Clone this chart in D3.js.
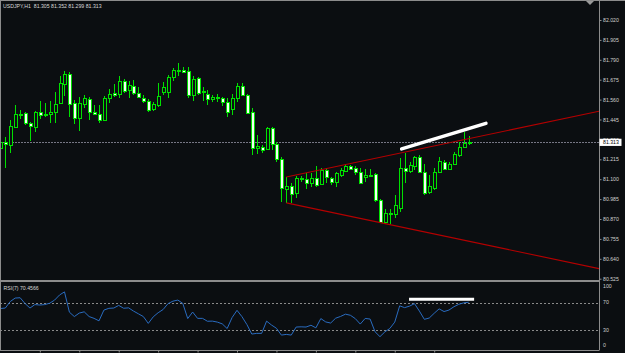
<!DOCTYPE html>
<html>
<head>
<meta charset="utf-8">
<script src="https://cdn.jsdelivr.net/npm/d3@7"></script>
<style>
  html, body { margin: 0; padding: 0; background: #0b0e11; }
  svg { display: block; font-family: "Liberation Sans", Arial, sans-serif; }
</style>
</head>
<body>
<div id="chart"></div>
<script>
// chart texts
const symbolTitle = 'USDJPY,H1  81.305 81.352 81.299 81.313';
const rsiTitle = 'RSI(7) 70.4566';

// hourly candles, oldest first
const opens = [81.281, 81.315, 81.298, 81.402, 81.471, 81.483, 81.425, 81.402, 81.488, 81.477,
  81.477, 81.488, 81.541, 81.650, 81.708, 81.541, 81.454, 81.535, 81.564, 81.488,
  81.477, 81.442, 81.569, 81.599, 81.593, 81.667, 81.616, 81.639, 81.599, 81.569,
  81.552, 81.506, 81.529, 81.604, 81.604, 81.691, 81.731, 81.731, 81.725, 81.587,
  81.685, 81.604, 81.593, 81.564, 81.575, 81.569, 81.546, 81.506, 81.569, 81.639,
  81.587, 81.488, 81.281, 81.287, 81.275, 81.396, 81.304, 81.217, 81.044, 81.061,
  81.021, 81.101, 81.101, 81.078, 81.107, 81.072, 81.153, 81.107, 81.084, 81.124,
  81.147, 81.176, 81.165, 81.141, 81.113, 81.124, 81.130, 80.980, 80.853, 80.905,
  80.899, 80.934, 81.165, 81.147, 81.176, 81.229, 81.141, 81.026, 81.049, 81.141,
  81.199, 81.159, 81.188, 81.240, 81.287, 81.305];
const highs = [81.349, 81.344, 81.442, 81.529, 81.500, 81.488, 81.430, 81.494, 81.552, 81.541,
  81.552, 81.604, 81.696, 81.725, 81.719, 81.558, 81.575, 81.587, 81.575, 81.529,
  81.529, 81.581, 81.622, 81.650, 81.696, 81.679, 81.667, 81.673, 81.633, 81.587,
  81.564, 81.546, 81.656, 81.662, 81.702, 81.742, 81.771, 81.748, 81.748, 81.696,
  81.691, 81.633, 81.616, 81.587, 81.593, 81.575, 81.569, 81.593, 81.656, 81.656,
  81.593, 81.512, 81.355, 81.298, 81.402, 81.402, 81.315, 81.229, 81.113, 81.078,
  81.118, 81.118, 81.136, 81.136, 81.176, 81.165, 81.165, 81.113, 81.141, 81.165,
  81.188, 81.182, 81.176, 81.165, 81.159, 81.159, 81.136, 80.986, 80.928, 80.928,
  81.009, 81.223, 81.252, 81.199, 81.234, 81.240, 81.188, 81.124, 81.165, 81.229,
  81.211, 81.199, 81.257, 81.315, 81.373, 81.352];
const lows = [81.257, 81.165, 81.252, 81.396, 81.448, 81.413, 81.321, 81.373, 81.448, 81.460,
  81.425, 81.425, 81.535, 81.581, 81.460, 81.419, 81.378, 81.512, 81.442, 81.471,
  81.425, 81.436, 81.541, 81.575, 81.569, 81.599, 81.569, 81.587, 81.569, 81.541,
  81.488, 81.494, 81.517, 81.587, 81.569, 81.667, 81.696, 81.714, 81.569, 81.552,
  81.587, 81.552, 81.529, 81.546, 81.546, 81.523, 81.460, 81.471, 81.546, 81.581,
  81.477, 81.240, 81.246, 81.252, 81.269, 81.269, 81.199, 80.968, 80.963, 80.963,
  80.992, 81.084, 81.044, 81.055, 81.055, 81.067, 81.078, 81.067, 81.055, 81.113,
  81.141, 81.153, 81.124, 81.072, 81.084, 81.113, 80.968, 80.847, 80.841, 80.841,
  80.876, 80.911, 81.078, 81.136, 81.153, 81.136, 81.009, 81.015, 81.038, 81.136,
  81.153, 81.153, 81.182, 81.229, 81.281, 81.299];
const closes = [81.315, 81.304, 81.407, 81.477, 81.477, 81.425, 81.407, 81.488, 81.471, 81.474,
  81.488, 81.535, 81.656, 81.708, 81.535, 81.454, 81.541, 81.569, 81.488, 81.477,
  81.442, 81.569, 81.593, 81.587, 81.667, 81.610, 81.644, 81.599, 81.575, 81.552,
  81.500, 81.535, 81.581, 81.633, 81.691, 81.731, 81.728, 81.719, 81.587, 81.679,
  81.599, 81.610, 81.564, 81.575, 81.569, 81.546, 81.488, 81.569, 81.639, 81.587,
  81.483, 81.281, 81.292, 81.269, 81.396, 81.304, 81.217, 81.049, 81.061, 81.015,
  81.107, 81.107, 81.078, 81.107, 81.067, 81.153, 81.113, 81.084, 81.136, 81.153,
  81.176, 81.159, 81.141, 81.078, 81.124, 81.121, 80.980, 80.853, 80.905, 80.902,
  80.951, 81.165, 81.147, 81.182, 81.229, 81.141, 81.021, 81.061, 81.141, 81.205,
  81.159, 81.188, 81.246, 81.287, 81.310, 81.313];

// RSI(7), one value per candle
const rsiValues = [61.3, 62.0, 71.5, 76.5, 77.0, 68.5, 62.0, 67.0, 66.4, 67.0,
  69.0, 73.6, 81.0, 85.5, 56.0, 49.6, 54.7, 56.5, 49.6, 47.0,
  43.4, 59.0, 61.6, 62.0, 65.8, 61.7, 62.3, 57.6, 53.6, 49.6,
  39.7, 49.2, 55.2, 59.8, 68.4, 72.0, 73.6, 68.7, 46.7, 56.2,
  47.0, 47.0, 42.8, 43.0, 41.6, 39.0, 32.2, 48.2, 58.7, 49.5,
  38.1, 24.2, 25.2, 25.2, 43.0, 37.3, 32.6, 22.7, 23.7, 22.7,
  34.4, 34.7, 34.4, 37.0, 33.2, 46.7, 41.8, 40.2, 47.2, 49.8,
  53.1, 51.5, 46.6, 38.7, 46.9, 46.0, 27.5, 20.4, 27.4, 32.3,
  41.6, 65.2, 62.6, 64.8, 68.4, 57.6, 45.6, 47.5, 54.4, 60.8,
  56.9, 59.1, 63.9, 67.5, 69.6, 70.4566];

// axis labels
const priceTicks = [82.020, 81.905, 81.790, 81.675, 81.560, 81.445, 81.330,
  81.215, 81.100, 80.985, 80.870, 80.755, 80.640, 80.525];
const rsiTicks = [100, 70, 30, 0];
const rsiLevels = [70, 30];
const timeTicks = [8, 16, 24, 32, 40, 48, 56, 64, 72, 80, 88];
const lastPrice = 81.313;

// drawn objects: [candle index, value]
const trendUpper = [[58, 81.113], [121, 81.490]];
const trendLower = [[58, 80.963], [121, 80.586]];
const whiteLine = [[81.4, 81.275], [98.5, 81.423]];
const rsiWhiteLine = [[82.9, 74.8], [96.1, 74.8]];

const W = 625, H = 353;
const plotRight = 599;
const mainTop = 2, mainBottom = 280.5;
const rsiTop = 282.5, rsiBottom = 350.5;
const green = '#00e000';
const grid = '#8c8c8c';

const svg = d3.select('#chart').append('svg')
  .attr('width', W)
  .attr('height', H);
svg.append('rect').attr('width', W).attr('height', H).attr('fill', '#0b0e11');

const x = d3.scaleLinear().domain([0, 95]).range([0.4, 468.7]);
const y = d3.scaleLinear().domain([80.525, 82.02]).range([278.7, 20]);
const yRsi = d3.scaleLinear().domain([0, 100]).range([350.7, 281.9]);

const defs = svg.append('defs');
defs.append('clipPath').attr('id', 'clip-main')
  .append('rect').attr('x', 1).attr('y', mainTop).attr('width', plotRight - 1).attr('height', mainBottom - mainTop);
defs.append('clipPath').attr('id', 'clip-rsi')
  .append('rect').attr('x', 1).attr('y', rsiTop).attr('width', plotRight - 1).attr('height', rsiBottom - rsiTop);

const main = svg.append('g').attr('clip-path', 'url(#clip-main)');
const rsiG = svg.append('g').attr('clip-path', 'url(#clip-rsi)');

// current price line
main.append('line')
  .attr('x1', 0).attr('x2', plotRight)
  .attr('y1', Math.round(y(lastPrice)) + 0.5).attr('y2', Math.round(y(lastPrice)) + 0.5)
  .attr('stroke', '#767684')
  .attr('stroke-dasharray', '2 1');

// candles
const candles = d3.range(opens.length).map(i => ({
  i, o: opens[i], h: highs[i], l: lows[i], c: closes[i]
}));
const cg = main.append('g').attr('shape-rendering', 'crispEdges');
const candleG = cg.selectAll('g.candle').data(candles).enter().append('g').attr('class', 'candle');
candleG.append('line')
  .attr('x1', d => Math.round(x(d.i)) + 0.5)
  .attr('x2', d => Math.round(x(d.i)) + 0.5)
  .attr('y1', d => y(d.h))
  .attr('y2', d => y(d.l))
  .attr('stroke', green);
candleG.append('rect')
  .attr('x', d => Math.round(x(d.i)) - 1)
  .attr('width', 3)
  .attr('y', d => Math.round(y(Math.max(d.o, d.c))) + 0.5)
  .attr('height', d => Math.max(1, Math.round(Math.abs(y(d.o) - y(d.c)))))
  .attr('fill', d => d.c >= d.o ? '#0b0e11' : '#f2fff2')
  .attr('stroke', green);

// trend lines, extended to the right edge
const xEnd = x.invert(plotRight);
function extend(pts) {
  const [[i0, p0], [i1, p1]] = pts;
  const k = (p1 - p0) / (i1 - i0);
  return [[i0, p0], [xEnd, p0 + k * (xEnd - i0)]];
}
const lineGen = d3.line().x(d => x(d[0])).y(d => y(d[1]));
[trendUpper, trendLower].forEach(t => {
  main.append('path')
    .attr('d', lineGen(extend(t)))
    .attr('fill', 'none')
    .attr('stroke', '#b40000')
    .attr('stroke-width', 1.1);
});

main.append('path')
  .attr('d', lineGen(whiteLine))
  .attr('fill', 'none')
  .attr('stroke', '#ffffff')
  .attr('stroke-width', 3.5)
  .attr('stroke-linecap', 'round');

// RSI panel
rsiLevels.forEach(v => {
  rsiG.append('line')
    .attr('x1', 0).attr('x2', plotRight)
    .attr('y1', Math.round(yRsi(v)) + 0.5).attr('y2', Math.round(yRsi(v)) + 0.5)
    .attr('stroke', '#8a8a8a')
    .attr('stroke-dasharray', '2 2');
});
rsiG.append('path')
  .datum(rsiValues)
  .attr('d', d3.line().x((d, i) => x(i)).y(d => yRsi(d)))
  .attr('fill', 'none')
  .attr('stroke', '#2a6cc0')
  .attr('stroke-width', 1);
rsiG.append('path')
  .attr('d', d3.line().x(d => x(d[0])).y(d => yRsi(d[1]))(rsiWhiteLine))
  .attr('fill', 'none')
  .attr('stroke', '#ffffff')
  .attr('stroke-width', 3);

// frames
const frame = svg.append('g').attr('stroke', grid).attr('shape-rendering', 'crispEdges');
frame.append('line').attr('x1', 0).attr('x2', W).attr('y1', 0.5).attr('y2', 0.5);
frame.append('line').attr('x1', 0.5).attr('x2', 0.5).attr('y1', 0).attr('y2', rsiBottom);
frame.append('line').attr('x1', 0).attr('x2', plotRight).attr('y1', mainBottom).attr('y2', mainBottom);
frame.append('line').attr('x1', 0).attr('x2', plotRight).attr('y1', rsiTop - 1).attr('y2', rsiTop - 1);
frame.append('line').attr('x1', 0).attr('x2', plotRight).attr('y1', rsiBottom).attr('y2', rsiBottom);

svg.append('path')
  .attr('d', 'M586,1 L594,1 L590,5 Z')
  .attr('fill', '#9a9a9a');

// price axis
const yAxis = d3.axisRight(y)
  .tickValues(priceTicks)
  .tickSize(2)
  .tickPadding(1.5)
  .tickFormat(d3.format('.3f'));
const gy = svg.append('g')
  .attr('transform', `translate(${plotRight + 0.5},0)`)
  .call(yAxis);
gy.select('.domain').attr('stroke', grid).attr('d', `M0,0V${rsiBottom}`);
gy.selectAll('line').attr('stroke', grid);
gy.selectAll('text')
  .attr('fill', '#d0d0d0')
  .style('font-size', '5.2px')
  .style('font-family', '"Liberation Sans", Arial, sans-serif');

// last price marker
const lp = svg.append('g').attr('transform', `translate(${plotRight + 0.5},${y(lastPrice)})`);
lp.append('rect').attr('x', 0).attr('y', -3.6).attr('width', 22).attr('height', 7.2).attr('fill', '#ffffff');
lp.append('text')
  .attr('x', 3.5).attr('y', 0).attr('dy', '0.35em')
  .attr('fill', '#000000')
  .style('font-size', '5.2px')
  .text(d3.format('.3f')(lastPrice));

// RSI axis labels
svg.append('g').selectAll('text').data(rsiTicks).enter().append('text')
  .attr('x', plotRight + 4)
  .attr('y', d => Math.min(345, Math.max(286, yRsi(d))))
  .attr('dy', '0.35em')
  .attr('fill', '#d0d0d0')
  .style('font-size', '5.2px')
  .text(d => d);

// time ticks
const xAxis = d3.axisBottom(x).tickValues(timeTicks).tickSize(2).tickFormat('');
const gx = svg.append('g').attr('transform', `translate(0,${rsiBottom})`).call(xAxis);
gx.select('.domain').remove();
gx.selectAll('line').attr('stroke', grid);

// titles
svg.append('text')
  .attr('x', 3).attr('y', 8)
  .attr('fill', '#d8d8d8')
  .style('font-size', '5.2px')
  .attr('xml:space', 'preserve')
  .text(symbolTitle);
svg.append('text')
  .attr('x', 3.5).attr('y', 290)
  .attr('fill', '#d8d8d8')
  .style('font-size', '5.2px')
  .text(rsiTitle);
</script>
</body>
</html>
